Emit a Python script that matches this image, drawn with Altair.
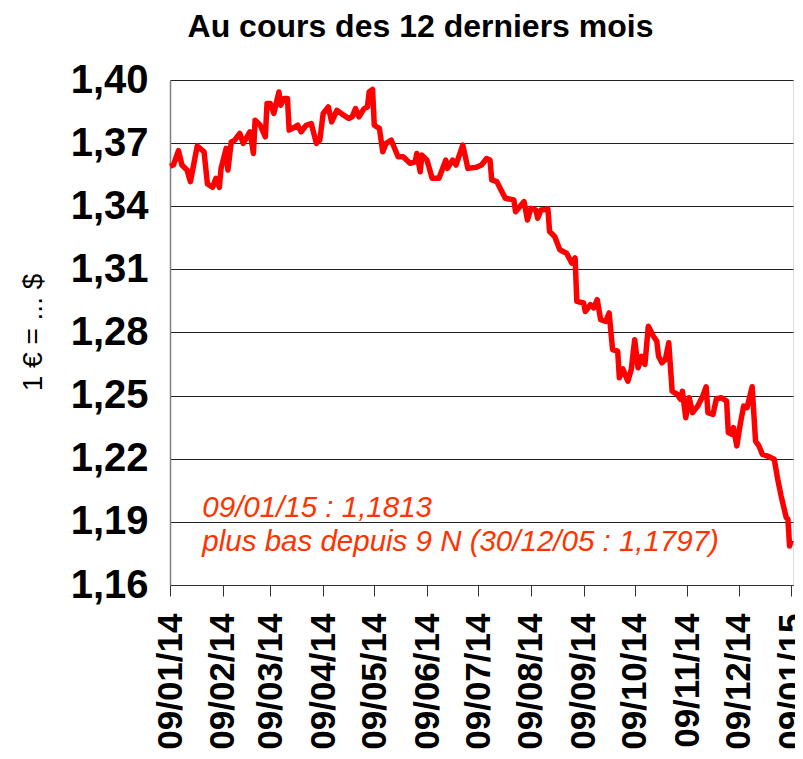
import altair as alt
import pandas as pd

dates = [
    "2014-01-09", "2014-01-11", "2014-01-14", "2014-01-16", "2014-01-19", "2014-01-21",
    "2014-01-25", "2014-01-29", "2014-01-31", "2014-02-03", "2014-02-05", "2014-02-07",
    "2014-02-08", "2014-02-11", "2014-02-12", "2014-02-14", "2014-02-16", "2014-02-19",
    "2014-02-21", "2014-02-25", "2014-02-27", "2014-02-28", "2014-03-03", "2014-03-06",
    "2014-03-07", "2014-03-09", "2014-03-11", "2014-03-14", "2014-03-15", "2014-03-17",
    "2014-03-19", "2014-03-20", "2014-03-22", "2014-03-25", "2014-03-27", "2014-03-30",
    "2014-04-02", "2014-04-05", "2014-04-07", "2014-04-09", "2014-04-12", "2014-04-14",
    "2014-04-17", "2014-04-21", "2014-04-24", "2014-04-26", "2014-04-28", "2014-04-30",
    "2014-05-03", "2014-05-05", "2014-05-06", "2014-05-08", "2014-05-09", "2014-05-12",
    "2014-05-14", "2014-05-16", "2014-05-19", "2014-05-23", "2014-05-26", "2014-05-30",
    "2014-06-02", "2014-06-03", "2014-06-05", "2014-06-06", "2014-06-09", "2014-06-12",
    "2014-06-16", "2014-06-20", "2014-06-21", "2014-06-24", "2014-06-26", "2014-06-30",
    "2014-07-03", "2014-07-08", "2014-07-11", "2014-07-14", "2014-07-16", "2014-07-17",
    "2014-07-20", "2014-07-23", "2014-07-25", "2014-07-30", "2014-07-31", "2014-08-05",
    "2014-08-07", "2014-08-09", "2014-08-12", "2014-08-13", "2014-08-15", "2014-08-19",
    "2014-08-20", "2014-08-23", "2014-08-26", "2014-08-30", "2014-09-02", "2014-09-04",
    "2014-09-05", "2014-09-09", "2014-09-10", "2014-09-13", "2014-09-15", "2014-09-17",
    "2014-09-19", "2014-09-22", "2014-09-24", "2014-09-26", "2014-09-29", "2014-09-30",
    "2014-10-02", "2014-10-05", "2014-10-07", "2014-10-09", "2014-10-11", "2014-10-13",
    "2014-10-15", "2014-10-17", "2014-10-20", "2014-10-22", "2014-10-23", "2014-10-25",
    "2014-10-27", "2014-10-29", "2014-10-31", "2014-11-03", "2014-11-05", "2014-11-06",
    "2014-11-08", "2014-11-10", "2014-11-12", "2014-11-15", "2014-11-18", "2014-11-20",
    "2014-11-21", "2014-11-24", "2014-11-26", "2014-11-29", "2014-12-02", "2014-12-03",
    "2014-12-05", "2014-12-06", "2014-12-08", "2014-12-10", "2014-12-12", "2014-12-14",
    "2014-12-17", "2014-12-19", "2014-12-21", "2014-12-23", "2014-12-26", "2014-12-30",
    "2015-01-01", "2015-01-03", "2015-01-06", "2015-01-07", "2015-01-08", "2015-01-09",
]

rates = [
    1.3590, 1.3596, 1.3664, 1.3596, 1.3572, 1.3517,
    1.3686, 1.3659, 1.3506, 1.3490, 1.3533, 1.3490,
    1.3580, 1.3675, 1.3572, 1.3706, 1.3714, 1.3746,
    1.3699, 1.3754, 1.3651, 1.3809, 1.3785, 1.3730,
    1.3888, 1.3888, 1.3841, 1.3943, 1.3880, 1.3912,
    1.3912, 1.3762, 1.3770, 1.3785, 1.3754, 1.3785,
    1.3793, 1.3699, 1.3714, 1.3841, 1.3872, 1.3801,
    1.3856, 1.3833, 1.3817, 1.3825, 1.3864, 1.3825,
    1.3864, 1.3872, 1.3943, 1.3955, 1.3785, 1.3770,
    1.3659, 1.3699, 1.3714, 1.3635, 1.3635, 1.3604,
    1.3611, 1.3651, 1.3564, 1.3643, 1.3619, 1.3533,
    1.3533, 1.3619, 1.3580, 1.3619, 1.3596, 1.3691,
    1.3580, 1.3585, 1.3596, 1.3627, 1.3620, 1.3525,
    1.3517, 1.3469, 1.3438, 1.3430, 1.3374, 1.3422,
    1.3335, 1.3390, 1.3382, 1.3343, 1.3382, 1.3387,
    1.3280, 1.3256, 1.3193, 1.3177, 1.3130, 1.3154,
    1.2948, 1.2940, 1.2900, 1.2932, 1.2917, 1.2956,
    1.2861, 1.2853, 1.2893, 1.2719, 1.2711, 1.2585,
    1.2627, 1.2569, 1.2624, 1.2766, 1.2632, 1.2687,
    1.2648, 1.2830, 1.2782, 1.2758, 1.2687, 1.2656,
    1.2672, 1.2751, 1.2521, 1.2506, 1.2482, 1.2521,
    1.2395, 1.2490, 1.2419, 1.2450, 1.2498, 1.2542,
    1.2419, 1.2411, 1.2485, 1.2490, 1.2474, 1.2324,
    1.2316, 1.2348, 1.2261, 1.2364, 1.2450, 1.2443,
    1.2542, 1.2284, 1.2261, 1.2221, 1.2213, 1.2198,
    1.2103, 1.2024, 1.1921, 1.1913, 1.1785, 1.1813,
]

y_ticks = [1.16, 1.19, 1.22, 1.25, 1.28, 1.31, 1.34, 1.37, 1.40]
month_ticks = [(2014, m) for m in range(1, 13)] + [(2015, 1)]

note_dates = ["2014-01-28", "2014-01-28"]
note_values = [1.1921, 1.1763]
note_texts = ["09/01/15 : 1,1813", "plus bas depuis 9 N (30/12/05 : 1,1797)"]

df = pd.DataFrame({"date": dates, "rate": rates})
notes = pd.DataFrame({"date": note_dates, "rate": note_values, "txt": note_texts})

FONT = "Liberation Sans"

x_scale = alt.Scale(
    type="utc",
    domain=[alt.DateTime(year=2014, month=1, date=9, utc=True),
            alt.DateTime(year=2015, month=1, date=10, utc=True)],
)
y_scale = alt.Scale(domain=[1.16, 1.40], nice=False, zero=False)

x_axis = alt.Axis(
    values=[alt.DateTime(year=y, month=m, date=9, utc=True) for y, m in month_ticks],
    labelExpr="utcFormat(datum.value, '%d/%m/%y')",
    labelAngle=270,
    labelFont=FONT, labelFontSize=35, labelFontWeight="bold", labelColor="#000",
    labelPadding=17, labelOverlap=False, labelBound=False, labelFlush=False,
    tickSize=11, tickColor="#333", tickWidth=1,
    domainColor="#333", domainWidth=1,
    grid=False, title=None,
)
y_axis = alt.Axis(
    values=y_ticks,
    labelExpr="replace(format(datum.value, '.2f'), '.', ',')",
    labelFont=FONT, labelFontSize=40, labelFontWeight="bold", labelColor="#000",
    labelPadding=22, ticks=False,
    domainColor="#808080", domainWidth=1.5,
    grid=True, gridColor="#222", gridWidth=1,
    title="1 € = ... $", titleFont=FONT, titleFontSize=28, titleFontWeight="normal",
    titleColor="#000", titleAngle=270, titleX=-137, titleY=252, titleAlign="center",
    titleBaseline="middle",
)

line = alt.Chart(df).mark_line(color="#FF0000", strokeWidth=5.5, strokeJoin="round").encode(
    x=alt.X("date:T", scale=x_scale, axis=x_axis),
    y=alt.Y("rate:Q", scale=y_scale, axis=y_axis),
)

text = alt.Chart(notes).mark_text(
    align="left", baseline="alphabetic", font=FONT, fontSize=29.5,
    fontStyle="italic", color="#FF3300",
).encode(
    x=alt.X("date:T", scale=x_scale),
    y=alt.Y("rate:Q", scale=y_scale),
    text="txt:N",
)

chart = alt.layer(line, text).properties(
    width=623, height=505,
    title=alt.TitleParams(
        "Au cours des 12 derniers mois", font=FONT, fontSize=32, fontWeight="bold",
        color="#000", anchor="middle", frame="group", dx=-61, offset=16,
    ),
    autosize=alt.AutoSizeParams(type="none"),
    padding={"left": 162, "top": 72, "right": 2, "bottom": 165},
).configure_view(stroke=None).configure(background="white")

chart.save("out.html", embed_options={"renderer": "svg", "actions": False})
